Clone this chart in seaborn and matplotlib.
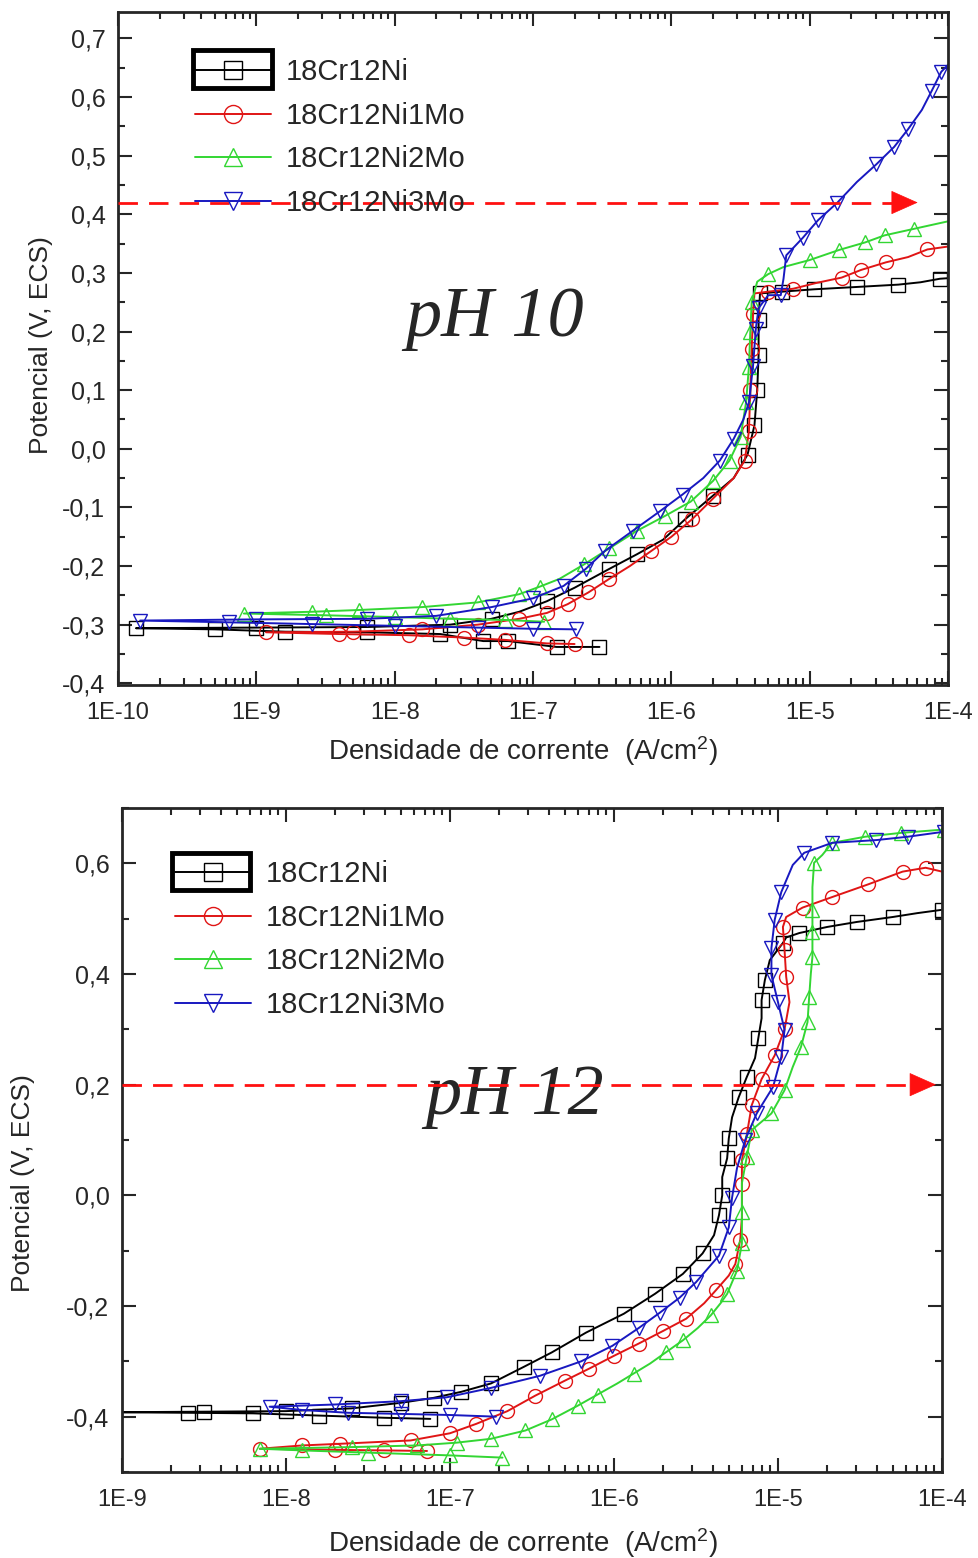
import numpy as np
import pandas as pd
import matplotlib
matplotlib.use("Agg")
import matplotlib.pyplot as plt
import seaborn as sns
from matplotlib.lines import Line2D
from matplotlib.patches import Rectangle
from matplotlib.ticker import FuncFormatter, MultipleLocator, LogLocator, NullFormatter

ligas = ["18Cr12Ni", "18Cr12Ni1Mo", "18Cr12Ni2Mo", "18Cr12Ni3Mo"]
cores = ["#000000", "#e01515", "#33d633", "#1818c0"]
marcadores = ["s", "o", "^", "v"]

# ---- pH 10: log10(i) [A/cm2] e potencial [V, ECS] (ramo catodico + anodico)
ph10_ni_logi = [-6.52, -6.83, -7.18, -7.36, -7.67, -8.2, -8.79, -9.3, -9.87,
                -9.0, -8.2, -7.6, -7.3, -7.1, -6.9, -6.7, -6.45, -6.25, -6.06, -5.9,
                -5.7, -5.55, -5.45, -5.40, -5.38, -5.37, -5.37, -5.36,
                -5.2, -4.97, -4.66, -4.36, -4.2, -4.06, -4.0]
ph10_ni_e = [-0.338, -0.338, -0.328, -0.328, -0.316, -0.313, -0.312, -0.308, -0.306,
             -0.305, -0.304, -0.300, -0.290, -0.278, -0.260, -0.237, -0.205, -0.180, -0.155, -0.120,
             -0.080, -0.050, -0.010, 0.040, 0.100, 0.160, 0.220, 0.265,
             0.268, 0.272, 0.276, 0.280, 0.284, 0.290, 0.291]

ph10_1mo_logi = [-6.70, -6.9, -7.2, -7.5, -7.9, -8.4, -8.93,
                 -8.3, -7.8, -7.4, -7.1, -6.9, -6.75, -6.6, -6.45, -6.3, -6.15, -6.0, -5.85,
                 -5.7, -5.55, -5.47, -5.44, -5.43, -5.42, -5.41, -5.40,
                 -5.3, -5.12, -4.95, -4.77, -4.63, -4.45, -4.29, -4.15, -4.0]
ph10_1mo_e = [-0.333, -0.332, -0.326, -0.322, -0.318, -0.316, -0.313,
              -0.312, -0.308, -0.300, -0.290, -0.280, -0.265, -0.245, -0.222, -0.200, -0.175, -0.150, -0.120,
              -0.085, -0.050, -0.020, 0.030, 0.100, 0.170, 0.230, 0.265,
              0.268, 0.273, 0.283, 0.292, 0.305, 0.318, 0.327, 0.340, 0.345]

ph10_2mo_logi = [-6.92, -7.2, -7.6, -8.0, -8.5, -9.09,
                 -8.6, -8.26, -7.8, -7.4, -7.1, -6.95, -6.81, -6.63, -6.45, -6.25, -6.05, -5.86,
                 -5.7, -5.58, -5.5, -5.46, -5.44, -5.43, -5.42, -5.38,
                 -5.3, -5.19, -5.0, -4.79, -4.6, -4.46, -4.25, -4.0]
ph10_2mo_e = [-0.295, -0.292, -0.290, -0.287, -0.284, -0.281,
              -0.278, -0.275, -0.270, -0.262, -0.248, -0.235, -0.222, -0.197, -0.170, -0.140, -0.115, -0.090,
              -0.055, -0.020, 0.020, 0.080, 0.140, 0.200, 0.250, 0.285,
              0.298, 0.310, 0.322, 0.339, 0.352, 0.364, 0.375, 0.388]

ph10_3mo_logi = [-6.69, -7.0, -7.4, -8.0, -8.6, -9.2, -9.84,
                 -9.0, -8.2, -7.7, -7.3, -7.0, -6.78, -6.62, -6.48, -6.28, -6.08, -5.92,
                 -5.77, -5.65, -5.55, -5.48, -5.44, -5.41, -5.39, -5.37, -5.30, -5.21,
                 -5.19, -5.17, -5.05, -4.94, -4.80, -4.66, -4.52, -4.39, -4.29, -4.19,
                 -4.12, -4.05, -4.0]
ph10_3mo_e = [-0.308, -0.307, -0.305, -0.302, -0.299, -0.296, -0.293,
              -0.291, -0.290, -0.285, -0.270, -0.255, -0.234, -0.205, -0.174, -0.140, -0.106, -0.078,
              -0.050, -0.020, 0.017, 0.050, 0.079, 0.142, 0.205, 0.240, 0.262, 0.262,
              0.290, 0.330, 0.360, 0.390, 0.420, 0.455, 0.485, 0.515, 0.545, 0.578,
              0.610, 0.643, 0.655]

# ---- pH 12
ph12_ni_logi = [-7.12, -7.4, -7.8, -8.2, -8.6, -9.05,
                -8.5, -8.0, -7.6, -7.3, -7.1, -6.93, -6.75, -6.55, -6.38, -6.17, -5.94, -5.75,
                -5.58, -5.46, -5.39, -5.36, -5.34, -5.34, -5.31, -5.30, -5.28, -5.24, -5.19,
                -5.14, -5.12, -5.10, -5.10, -5.08, -5.05, -4.97, -4.95, -4.87, -4.70, -4.52,
                -4.3, -4.15, -4.0]
ph12_ni_e = [-0.404, -0.402, -0.398, -0.394, -0.393, -0.392,
             -0.391, -0.390, -0.385, -0.375, -0.366, -0.355, -0.340, -0.310, -0.284, -0.248, -0.214, -0.178,
             -0.142, -0.105, -0.072, -0.036, 0.000, 0.033, 0.067, 0.103, 0.141, 0.177, 0.214,
             0.248, 0.284, 0.320, 0.353, 0.389, 0.425, 0.456, 0.466, 0.474, 0.485, 0.494,
             0.503, 0.510, 0.516]

ph12_1mo_logi = [-7.14, -7.4, -7.7, -8.16,
                 -7.9, -7.67, -7.24, -7.0, -6.84, -6.65, -6.48, -6.3, -6.15, -6.0, -5.85, -5.7,
                 -5.56, -5.45, -5.38, -5.30, -5.26, -5.23, -5.22, -5.22, -5.22, -5.19, -5.16,
                 -5.10, -5.02, -4.96, -4.93, -4.95, -4.96, -4.97, -4.95, -4.85, -4.67, -4.45,
                 -4.24, -4.1, -4.0]
ph12_1mo_e = [-0.462, -0.461, -0.460, -0.458,
              -0.452, -0.449, -0.443, -0.430, -0.413, -0.390, -0.362, -0.335, -0.313, -0.290, -0.268, -0.245,
              -0.223, -0.195, -0.172, -0.145, -0.124, -0.080, -0.040, 0.020, 0.063, 0.110, 0.163,
              0.210, 0.253, 0.300, 0.349, 0.395, 0.443, 0.485, 0.503, 0.520, 0.539, 0.562,
              0.585, 0.592, 0.585]

ph12_2mo_logi = [-6.68, -7.0, -7.5, -7.9, -8.16,
                 -7.6, -7.2, -6.96, -6.75, -6.54, -6.38, -6.22, -6.1, -5.98, -5.88, -5.78, -5.68,
                 -5.58, -5.49, -5.41, -5.35, -5.31, -5.25, -5.22, -5.22, -5.22, -5.19, -5.16,
                 -5.04, -4.96, -4.91, -4.86, -4.82, -4.81, -4.80, -4.79, -4.79, -4.79, -4.79,
                 -4.78, -4.73, -4.67, -4.47, -4.25, -3.99]
ph12_2mo_e = [-0.474, -0.470, -0.465, -0.461, -0.458,
              -0.455, -0.452, -0.447, -0.440, -0.425, -0.405, -0.380, -0.360, -0.340, -0.322, -0.304, -0.283,
              -0.262, -0.240, -0.217, -0.195, -0.178, -0.136, -0.087, -0.030, 0.022, 0.070, 0.118,
              0.148, 0.190, 0.232, 0.268, 0.313, 0.358, 0.400, 0.431, 0.475, 0.516, 0.557,
              0.601, 0.615, 0.637, 0.648, 0.655, 0.661]

ph12_3mo_logi = [-6.72, -7.0, -7.3, -7.62, -7.9, -8.1,
                 -7.7, -7.3, -7.02, -6.75, -6.45, -6.2, -6.01, -5.85, -5.72, -5.6, -5.50,
                 -5.36, -5.30, -5.28, -5.25, -5.20, -5.13, -5.03, -4.98, -4.96, -5.0, -5.04,
                 -5.04, -5.02, -4.98, -4.91, -4.84, -4.67, -4.40, -4.21, -3.99]
ph12_3mo_e = [-0.400, -0.397, -0.395, -0.393, -0.388, -0.382,
              -0.378, -0.372, -0.365, -0.348, -0.326, -0.300, -0.272, -0.240, -0.212, -0.185, -0.157,
              -0.109, -0.058, -0.004, 0.049, 0.100, 0.148, 0.196, 0.250, 0.299, 0.349, 0.398,
              0.447, 0.498, 0.548, 0.597, 0.619, 0.637, 0.642, 0.648, 0.657]

curvas = {
    10: [(ph10_ni_logi, ph10_ni_e), (ph10_1mo_logi, ph10_1mo_e),
         (ph10_2mo_logi, ph10_2mo_e), (ph10_3mo_logi, ph10_3mo_e)],
    12: [(ph12_ni_logi, ph12_ni_e), (ph12_1mo_logi, ph12_1mo_e),
         (ph12_2mo_logi, ph12_2mo_e), (ph12_3mo_logi, ph12_3mo_e)],
}

sns.set_style("ticks")
plt.rcParams["font.family"] = ["Liberation Sans", "DejaVu Sans"]
plt.rcParams["mathtext.fontset"] = "custom"
plt.rcParams["mathtext.rm"] = "Liberation Sans"
plt.rcParams["mathtext.it"] = "Liberation Sans:italic"

fig = plt.figure(figsize=(9.79, 15.58), dpi=100)
ax10 = fig.add_axes([0.1205, 0.5603, 0.848, 0.4320])
ax12 = fig.add_axes([0.1246, 0.0552, 0.8376, 0.4262])

config = {
    10: dict(ax=ax10, dec=(-10, -4), ylim=(-0.403, 0.745), ymaj=0.1, ymin=0.05,
             seta_y=0.42, seta_base=-4.34, seta_tip=-4.20, txt=(0.454, 0.545),
             leg=(0.093, 0.931), caixa=(0.090, 0.887, 0.096, 0.0565),
             ylab=(-0.078, 0.505), xlab=(0.488, -0.073)),
    12: dict(ax=ax12, dec=(-9, -4), ylim=(-0.50, 0.70), ymaj=0.2, ymin=0.1,
             seta_y=0.20, seta_base=-4.13, seta_tip=-4.02, txt=(0.479, 0.565),
             leg=(0.065, 0.921), caixa=(0.061, 0.8765, 0.095, 0.0555),
             ylab=(-0.106, 0.435), xlab=(0.489, -0.081)),
}


def fmt_virgula(v, pos):
    if abs(v) < 1e-9:
        v = 0.0
    return f"{v:.1f}".replace(".", ",")


for ph, c in config.items():
    ax = c["ax"]
    ax.set_xscale("log")
    d0, d1 = c["dec"]
    for (logi, e), liga, cor, mk in zip(curvas[ph], ligas, cores, marcadores):
        df = pd.DataFrame({"i": 10.0 ** np.array(logi), "E": e})
        sns.lineplot(data=df, x="i", y="E", sort=False, estimator=None, ax=ax,
                     color=cor, lw=1.4, marker=mk, markersize=10, mfc="none",
                     mec=cor, mew=1.0, markevery=0.03, legend=False)

    # seta tracejada vermelha
    ax.plot([10.0 ** d0, 10 ** c["seta_base"]], [c["seta_y"], c["seta_y"]],
            color="#ff1010", lw=2.0, ls=(0, (7, 4)), zorder=5)
    ax.annotate("", xy=(10 ** c["seta_tip"], c["seta_y"]),
                xytext=(10 ** c["seta_base"], c["seta_y"]),
                arrowprops=dict(arrowstyle="-|>,head_length=0.9,head_width=0.4",
                                color="#ff1010", lw=0.5, mutation_scale=20), zorder=5)

    ax.text(*c["txt"], f"pH {ph}", transform=ax.transAxes, ha="center", va="center",
            fontsize=52, fontstyle="italic", family="Liberation Serif")

    ax.set_xlim(10.0 ** d0, 10.0 ** d1)
    ax.set_ylim(*c["ylim"])
    decadas = np.arange(d0, d1 + 1)
    ax.set_xticks(10.0 ** decadas)
    ax.set_xticklabels([f"1E{k}" for k in decadas])
    ax.xaxis.set_minor_locator(LogLocator(base=10, subs=np.arange(2, 10), numticks=100))
    ax.xaxis.set_minor_formatter(NullFormatter())
    ax.yaxis.set_major_locator(MultipleLocator(c["ymaj"]))
    ax.yaxis.set_minor_locator(MultipleLocator(c["ymin"]))
    ax.yaxis.set_major_formatter(FuncFormatter(fmt_virgula))
    ax.tick_params(which="both", direction="in", top=True, right=True, width=1.5)
    ax.tick_params(which="major", length=10, labelsize=18, pad=9)
    ax.tick_params(axis="x", which="major", pad=12, labelsize=17)
    ax.tick_params(which="minor", length=5)
    for sp in ax.spines.values():
        sp.set_linewidth(2.0)

    ax.set_xlabel("Densidade de corrente  (A/cm$^2$)", fontsize=20)
    ax.set_ylabel("Potencial (V, ECS)", fontsize=19)
    ax.xaxis.set_label_coords(*c["xlab"])
    ax.yaxis.set_label_coords(*c["ylab"])

    handles = [Line2D([], [], color=cor, lw=1.4, marker=mk, markersize=13, mfc="none",
                      mec=cor, mew=1.0) for cor, mk in zip(cores, marcadores)]
    ax.legend(handles, ligas, loc="upper left", bbox_to_anchor=c["leg"], frameon=False,
              fontsize=21, handlelength=2.6, handletextpad=0.5, labelspacing=0.53,
              borderpad=0, borderaxespad=0)
    x0, y0, w, h = c["caixa"]
    ax.add_patch(Rectangle((x0, y0), w, h, transform=ax.transAxes, fill=False,
                           lw=3.5, ec="black", zorder=6))

fig.savefig("out.png", dpi=100)
